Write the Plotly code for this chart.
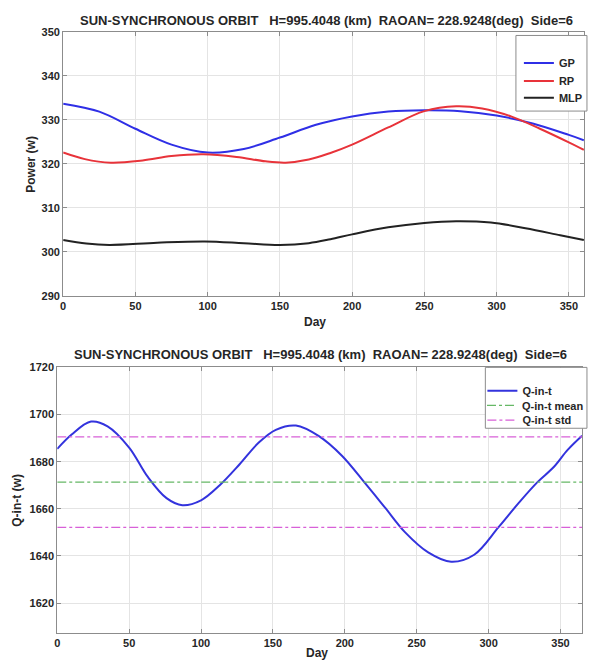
import plotly.graph_objects as go

W, H = 589, 667

# ---- top panel data (Power vs Day) ----
gp_day = [0, 25, 50, 75, 100, 125, 150, 175, 200, 225, 250, 275, 300, 325, 350, 360.4]
gp_val = [333.7, 331.9, 328.0, 324.4, 322.6, 323.4, 326.0, 328.9, 330.8, 331.9, 332.2, 332.0, 331.0, 329.2, 326.6, 325.4]

rp_day = [0, 15, 33, 55, 75, 97, 120, 140, 154, 170, 185, 200, 225, 250, 272, 290, 310, 330, 350, 360.4]
rp_val = [322.6, 321.1, 320.3, 320.8, 321.8, 322.2, 321.6, 320.6, 320.3, 321.0, 322.5, 324.4, 328.3, 332.0, 333.1, 332.6, 330.8, 328.0, 324.9, 323.2]

mlp_day = [0, 16, 32, 65, 98, 125, 150, 170, 185, 200, 225, 250, 272, 296, 320, 344, 360.4]
mlp_val = [302.7, 301.9, 301.6, 302.1, 302.4, 302.0, 301.6, 302.0, 302.9, 304.0, 305.6, 306.6, 307.0, 306.7, 305.4, 303.8, 302.7]

# ---- bottom panel data (Q-in-t vs Day) ----
q_day = [0, 10, 23.5, 35, 50, 63, 76, 87, 100, 113, 127, 140, 152, 166,
         182, 198, 213.5, 228, 242, 258, 274, 290, 306.8, 321, 334, 345, 355, 365]
q_val = [1685.4, 1691.5, 1697.0, 1695.0, 1686.0, 1673.5, 1664.5, 1661.5, 1663.6, 1670.0, 1679.0, 1688.0, 1693.5, 1695.3,
         1690.8, 1682.5, 1671.3, 1660.5, 1650.0, 1641.5, 1637.5, 1640.5, 1652.1, 1662.5, 1671.3, 1677.5, 1685.0, 1691.0]
q_mean = 1671.3
q_std = 19.2

title_text = "SUN-SYNCHRONOUS ORBIT   H=995.4048 (km)  RAOAN= 228.9248(deg)  Side=6"
x_ticks = [0, 50, 100, 150, 200, 250, 300, 350]
top_y_ticks = [290, 300, 310, 320, 330, 340, 350]
bot_y_ticks = [1620, 1640, 1660, 1680, 1700, 1720]

FONT = "Liberation Sans"
TXT = "#262626"

def py(y):  # pixel from top -> paper
    return 1 - y / H

def px(x):
    return x / W

fig = go.Figure()
fig.add_trace(go.Scatter(x=gp_day, y=gp_val, name="GP", mode="lines", line=dict(color="#2f2fe6", width=2, shape="spline"),
                         xaxis="x", yaxis="y", legend="legend"))
fig.add_trace(go.Scatter(x=rp_day, y=rp_val, name="RP", mode="lines", line=dict(color="#e8333a", width=2, shape="spline"),
                         xaxis="x", yaxis="y", legend="legend2"))
fig.add_trace(go.Scatter(x=mlp_day, y=mlp_val, name="MLP", mode="lines", line=dict(color="#222222", width=2, shape="spline"),
                         xaxis="x", yaxis="y", legend="legend3"))

fig.add_trace(go.Scatter(x=q_day, y=q_val, name="Q-in-t", mode="lines", line=dict(color="#3333dd", width=2, shape="spline"),
                         xaxis="x2", yaxis="y2", legend="legend4"))
fig.add_trace(go.Scatter(x=[0, 365], y=[q_mean, q_mean], name="Q-in-t mean", mode="lines",
                         line=dict(color="#66b866", width=1.2, dash="dashdot"), xaxis="x2", yaxis="y2", legend="legend5"))
fig.add_trace(go.Scatter(x=[0, 365, None, 0, 365], y=[q_mean + q_std, q_mean + q_std, None, q_mean - q_std, q_mean - q_std],
                         name="Q-in-t std", mode="lines",
                         line=dict(color="#d860d8", width=1.2, dash="dashdot"), xaxis="x2", yaxis="y2", legend="legend6"))

axis_common = dict(showgrid=True, gridcolor="#e4e4e4", gridwidth=1, zeroline=False,
                   showline=True, linecolor="#8c8c8c", linewidth=1, mirror="ticks",
                   ticks="inside", ticklen=4, tickcolor="#8c8c8c",
                   tickfont=dict(family=FONT, size=11, color=TXT, weight="bold"))

def leg(xp, yp):
    return dict(x=px(xp), y=py(yp), xanchor="left", yanchor="middle", bgcolor="rgba(0,0,0,0)", borderwidth=0,
                font=dict(family=FONT, size=11, color=TXT, weight="bold"))

fig.update_layout(
    width=W, height=H, margin=dict(l=0, r=0, t=0, b=0),
    paper_bgcolor="white", plot_bgcolor="white",
    showlegend=True,
    xaxis=dict(domain=[px(61), 1], range=[0, 360.5], tickvals=x_ticks, anchor="y", **axis_common),
    yaxis=dict(domain=[py(295.3), py(26.4)], range=[290, 350], tickvals=top_y_ticks, anchor="x", **axis_common),
    xaxis2=dict(domain=[px(55), px(587)], range=[0, 365], tickvals=x_ticks, anchor="y2", **axis_common),
    yaxis2=dict(domain=[py(638), py(368)], range=[1607.5, 1720], tickvals=bot_y_ticks, anchor="x2", **axis_common),
    legend=leg(523, 58),
    legend2=leg(523, 76.5),
    legend3=leg(523, 93.5),
    legend4=leg(486, 391.7),
    legend5=leg(486, 406.7),
    legend6=leg(486, 421.7),
    shapes=[
        dict(type="rect", xref="paper", yref="paper", x0=px(520), x1=px(592), y0=py(107), y1=py(30),
             line=dict(color="#8c8c8c", width=1), fillcolor="white", layer="above"),
        dict(type="rect", xref="paper", yref="paper", x0=px(489), x1=px(592), y0=py(430), y1=py(368),
             line=dict(color="#8c8c8c", width=1), fillcolor="white", layer="above"),
    ],
    annotations=[
        dict(text=title_text, x=px(328), y=py(15), xref="paper", yref="paper", showarrow=False,
             xanchor="center", yanchor="middle", font=dict(family=FONT, size=13, color=TXT, weight="bold")),
        dict(text=title_text, x=px(322), y=py(355), xref="paper", yref="paper", showarrow=False,
             xanchor="center", yanchor="middle", font=dict(family=FONT, size=13, color=TXT, weight="bold")),
        dict(text="Day", x=px(316), y=py(322), xref="paper", yref="paper", showarrow=False,
             xanchor="center", yanchor="middle", font=dict(family=FONT, size=12, color=TXT, weight="bold")),
        dict(text="Day", x=px(318), y=py(659), xref="paper", yref="paper", showarrow=False,
             xanchor="center", yanchor="middle", font=dict(family=FONT, size=12, color=TXT, weight="bold")),
        dict(text="Power (w)", x=px(28), y=py(161), xref="paper", yref="paper", showarrow=False, textangle=-90,
             xanchor="center", yanchor="middle", font=dict(family=FONT, size=12, color=TXT, weight="bold")),
        dict(text="Q-in-t (w)", x=px(14), y=py(503), xref="paper", yref="paper", showarrow=False, textangle=-90,
             xanchor="center", yanchor="middle", font=dict(family=FONT, size=12, color=TXT, weight="bold")),
    ],
)

fig.write_html("out.html")
